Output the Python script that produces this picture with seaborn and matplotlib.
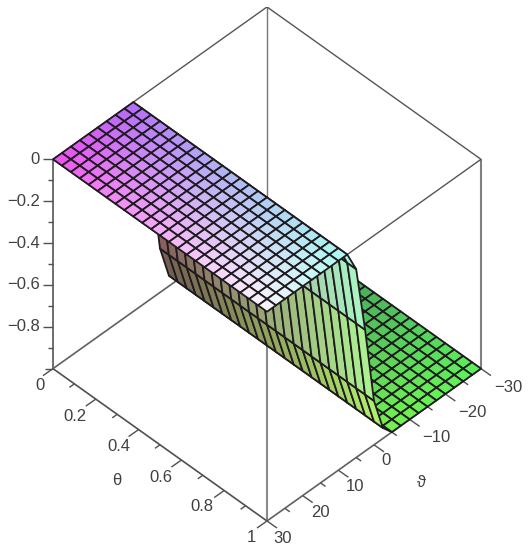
import numpy as np
import matplotlib
matplotlib.use("Agg")
import matplotlib.pyplot as plt
import seaborn as sns
from mpl_toolkits.mplot3d import proj3d

# ---- data ----
theta_grid = [0, .0417, .0833, .125, .1667, .2083, .25, .2917, .3333, .375, .4167, .4583, .5,
              .5417, .5833, .625, .6667, .7083, .75, .7917, .8333, .875, .9167, .9583, 1]
vartheta_grid = [30, 27.5, 25, 22.5, 20, 17.5, 15, 12.5, 10, 7.5, 5, 2.5, 0,
                 -2.5, -5, -7.5, -10, -12.5, -15, -17.5, -20, -22.5, -25, -27.5, -30]
height_profile = [0, 0, 0, 0, 0, 0, 0, 0, 0, 0, -0.10, -0.42, -0.79,
                  -0.95, -1, -1, -1, -1, -1, -1, -1, -1, -1, -1, -1]
theta_major = [0, .2, .4, .6, .8, 1]
theta_labels = ["0", "0.2", "0.4", "0.6", "0.8", "1"]
theta_minor = [.1, .3, .5, .7, .9]
vartheta_major = [30, 20, 10, 0, -10, -20, -30]
vartheta_labels = ["30", "20", "10", "0", "\u221210", "\u221220", "\u221230"]
vartheta_minor = [25, 15, 5, -5, -15, -25]
height_major = [0, -.2, -.4, -.6, -.8]
height_labels = ["0", "\u22120.2", "\u22120.4", "\u22120.6", "\u22120.8"]
height_minor = [-.1, -.3, -.5, -.7, -.9]

# ---- style ----
sns.set_theme(style="white")
plt.rcParams["font.family"] = ["Liberation Sans", "DejaVu Sans"]
W, H = 528, 550
TXT = "#404040"
FS = 12

fig = plt.figure(figsize=(W / 100, H / 100), dpi=100, facecolor="white")
ax = fig.add_axes([0, 0, 1, 1], projection="3d", proj_type="ortho")
ax.computed_zorder = False
ax.set_axis_off()
ax.view_init(elev=45.4, azim=-45)
ax.set_xlim(0, 1)
ax.set_ylim(30, -30)
ax.set_zlim(-1, 0)
BOX = (1, 1, 0.985)
ax.set_box_aspect(BOX)

# surface colouring: corner colours per part (x=0 far / x=1 near)
def mix(c00, c01, c10, c11, u, v):
    c = ((1 - u) * (1 - v) * np.array(c00) + (1 - u) * v * np.array(c01)
         + u * (1 - v) * np.array(c10) + u * v * np.array(c11))
    return np.r_[c / 255, 1]

X, Y = np.meshgrid(theta_grid, vartheta_grid)
Z = np.tile(np.array(height_profile)[:, None], (1, len(theta_grid)))
fc = np.zeros((24, 24, 4))
for i in range(24):
    yc = (vartheta_grid[i] + vartheta_grid[i + 1]) / 2
    zc = (height_profile[i] + height_profile[i + 1]) / 2
    for j in range(24):
        u = (theta_grid[j] + theta_grid[j + 1]) / 2
        if height_profile[i + 1] == 0:
            fc[i, j] = mix((240, 75, 240), (178, 105, 250), (252, 248, 252), (170, 250, 240),
                           u ** 0.8, (30 - yc) / 22.5)
        elif height_profile[i] == -1:
            fc[i, j] = mix((60, 125, 95), (60, 120, 95), (118, 242, 80), (92, 242, 92),
                           u, (-5 - yc) / 25)
        else:
            fc[i, j] = mix((178, 100, 118), (105, 90, 75), (165, 248, 232), (178, 240, 90),
                           u, -zc)

ax.plot_surface(X, Y, Z, rstride=1, cstride=1, facecolors=fc, shade=False,
                edgecolor="#1e1a1e", linewidth=1.3, antialiased=True, zorder=5)

# box
def seg(a, b, color="#6e6e6e", lw=1.0, z=1):
    ax.plot([a[0], b[0]], [a[1], b[1]], [a[2], b[2]], color=color, lw=lw, zorder=z,
            solid_capstyle="butt")

seg((0, 30, -1), (0, 30, 0), "#555555", 1.2)
seg((0, -30, -1), (0, -30, 0), "#777777")
seg((1, 30, -1), (1, 30, 0), "#8a8a8a", 1.5)
seg((1, -30, -1), (1, -30, 0), "#808080", 1.5)
seg((0, 30, 0), (0, -30, 0), "#555555")
seg((0, -30, 0), (1, -30, 0), "#555555")
seg((1, -30, 0), (1, 30, 0), "#555555")
seg((1, 30, 0), (0, 30, 0), "#555555")
seg((0, 30, -1), (1, 30, -1), "#505050", 1.2)
seg((1, 30, -1), (1, -30, -1), "#606060", 1.2)
seg((0, 30, -1), (0, -30, -1), "#606060", 1.2)
seg((0, -30, -1), (1, -30, -1), "#606060")

# pixel offset (right, down) on screen -> data offset in theta / vartheta
def shift(ox, oy):
    a, b = ox / 214.0, oy / 152.0
    return (a + b) / 2, -60 * (a - b) / 2

def offset_point(x, y, z, ox, oy):
    dx, dy = shift(ox, oy)
    return x + dx, y + dy, z

TICK = "#505050"
labels = []   # (anchor in data coordinates, text, horizontal alignment)
for v, lab, off in zip(theta_major, theta_labels,
                       [(-13, 17), (-21, 17.5), (-20, 17), (-21, 17), (-22, 16), (-16, 16)]):
    seg((v, 30, -1), offset_point(v, 30, -1, -10, 7), TICK)
    labels.append((offset_point(v, 30, -1, *off), lab, "center"))
for v in theta_minor:
    seg((v, 30, -1), offset_point(v, 30, -1, -5, 3.5), TICK)
for v, lab, off in zip(vartheta_major, vartheta_labels,
                       [(16, 17), (17.5, 16.5), (17, 16.5), (12.5, 16), (27, 18), (27, 18), (27, 19)]):
    seg((1, v, -1), offset_point(1, v, -1, 10, 7), TICK)
    labels.append((offset_point(1, v, -1, *off), lab, "center"))
for v in vartheta_minor:
    seg((1, v, -1), offset_point(1, v, -1, 5, 3.5), TICK)
for v, lab in zip(height_major, height_labels):
    seg((0, 30, v), offset_point(0, 30, v, -10, 0), TICK)
    labels.append((offset_point(0, 30, v, -13, 0), lab, "right"))
for v in height_minor:
    seg((0, 30, v), offset_point(0, 30, v, -5, 0), TICK)
seg((0, 30, -1), offset_point(0, 30, -1, -8, 0), TICK)

# axis titles
labels.append((offset_point(.5, 30, -1, -43, 36), "\u03b8", "center"))
labels.append((offset_point(1, 0, -1, 48, 38), "\u03d1", "center"))

# place the box on the canvas
def to_px(x, y, z):
    px, py, _ = proj3d.proj_transform(x, y, z, ax.get_proj())
    return ax.transData.transform((px, py))

fig.canvas.draw()
l = to_px(0, 30, -1); r = to_px(1, -30, -1)
ax.set_box_aspect(BOX, zoom=(481 - 53) / (r[0] - l[0]))
fig.canvas.draw()
l = to_px(0, 30, -1); f = to_px(1, 30, -1)
ax.set_position([(53 - l[0]) / W, ((H - 521) - f[1]) / H, 1, 1])
fig.canvas.draw()

for p, s, ha in labels:
    q = to_px(*p)
    fig.text(q[0] / W, q[1] / H, s, ha=ha, va="center", fontsize=FS, color=TXT)

fig.savefig("out.png", dpi=100, facecolor="white")
